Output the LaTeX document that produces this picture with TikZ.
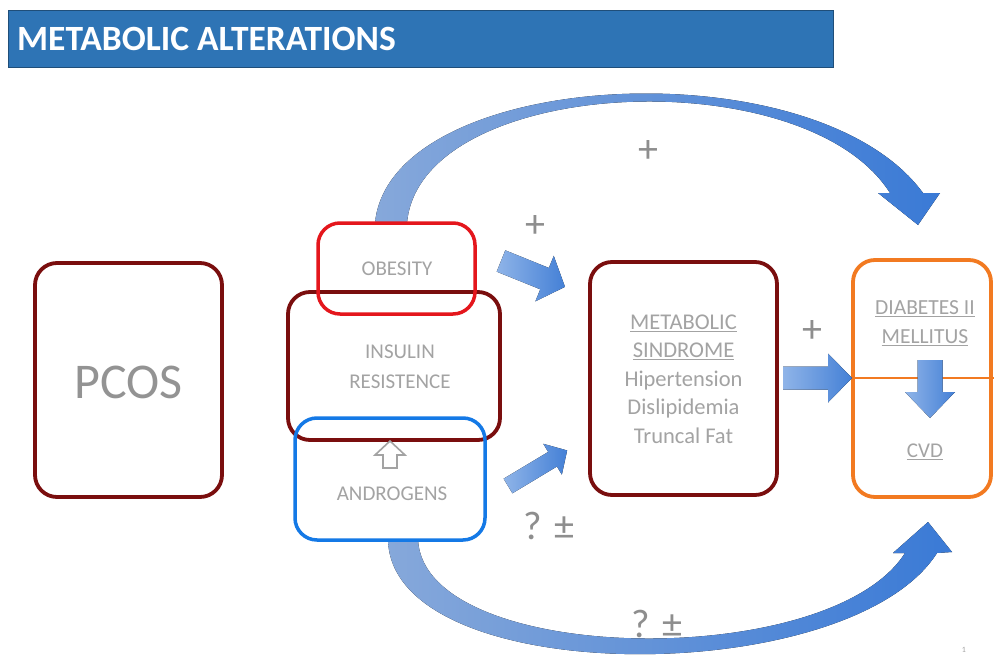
\documentclass[tikz,border=0pt]{standalone}
\usepackage{fontspec}
\setmainfont{Carlito}
\usetikzlibrary{positioning}
\definecolor{titleblue}{HTML}{2E74B5}
\definecolor{titleedge}{HTML}{1F4E79}
\definecolor{darkred}{HTML}{7A0E0E}
\definecolor{obred}{HTML}{E4161C}
\definecolor{andblue}{HTML}{1479E6}
\definecolor{dmorange}{HTML}{F27A21}
\definecolor{txtgray}{HTML}{A3A3A3}
\definecolor{signgray}{HTML}{8E8E8E}
\definecolor{arrlight}{HTML}{8FB4E8}
\definecolor{arrdark}{HTML}{4480D6}
\definecolor{arclight}{HTML}{86A8DA}
\definecolor{arcdark}{HTML}{3A7AD6}
\tikzset{
  box/.style={draw, line width=3.8pt, rounded corners=22pt, fill=none},
  lbl/.style={text=txtgray, font=\fontsize{21}{30}\selectfont, align=center, inner sep=0pt},
  sign/.style={text=signgray, font=\fontsize{40}{42}\selectfont, inner sep=0pt},
  arrowfill/.style={left color=arrlight, right color=arrdark},
}
\newcommand{\blockarr}[7]{%
  \begin{scope}[shift={(#1,#2)},rotate=#3]
    \fill[arrowfill] (0,-#5/2) -- ({#4-#7},-#5/2) -- ({#4-#7},-#6/2) -- (#4,0)
      -- ({#4-#7},#6/2) -- ({#4-#7},#5/2) -- (0,#5/2) -- cycle;
  \end{scope}}
\begin{document}
\begin{tikzpicture}[x=1pt,y=-1pt]
\useasboundingbox[fill=white] (0,0) rectangle (994,659);

% title bar
\node[draw=titleedge, line width=1pt, fill=titleblue, minimum width=825pt, minimum height=57pt,
      inner sep=0pt, anchor=north west] (title) at (8,10) {};
\node[anchor=west, text=white, font=\bfseries\fontsize{35.5}{37}\selectfont, inner sep=0pt]
      (titletext) at (17,39) {METABOLIC ALTERATIONS};

% curved arrows (behind boxes)
\fill[left color=arclight, right color=arcdark]
  (375,223) .. controls (390,68) and (815,45) .. (923,193) -- (940,193) -- (918,225)
  -- (878,193) -- (890,193) .. controls (805,58) and (420,76) .. (407,223) -- cycle;
\fill[left color=arclight, right color=arcdark]
  (388,540) .. controls (392,690) and (850,690) .. (937,553) -- (952,552) -- (928,522)
  -- (893,553) -- (905,553) .. controls (830,672) and (425,666) .. (418,540) -- cycle;

% boxes
\node[box, draw=darkred, minimum width=187pt, minimum height=234pt] (pcos) at (128.5,380) {};
\node[text=txtgray!90!black, font=\fontsize{50}{52}\selectfont, inner sep=0pt] (pcostext) at (128.5,382) {PCOS};

\node[box, draw=darkred, minimum width=212pt, minimum height=148pt] (insulin) at (394,366) {};
\node[box, draw=obred, line width=3.5pt, minimum width=157pt, minimum height=91pt] (obesity) at (396.5,268.5) {};
\node[box, draw=andblue, line width=3.5pt, minimum width=190pt, minimum height=122pt] (androgens) at (390,479) {};

\node[lbl] (obtext) at (397,269) {OBESITY};
\node[lbl] (intext) at (400,367) {INSULIN\\RESISTENCE};
\node[lbl] (andtext) at (392,494) {ANDROGENS};

% hollow up arrow
\draw[txtgray, line width=1.6pt, fill=white, line join=miter]
  (390,441) -- (405,455) -- (397,455) -- (397,468) -- (383,468) -- (383,455) -- (375,455) -- cycle;

\node[box, draw=darkred, minimum width=187pt, minimum height=233pt] (metab) at (683.5,378.5) {};
\node[lbl, font=\fontsize{22.5}{28.5}\selectfont] (mettext) at (683.5,379)
  {\underline{METABOLIC}\\\underline{SINDROME}\\Hipertension\\Dislipidemia\\Truncal Fat};

\node[box, draw=dmorange, minimum width=138pt, minimum height=237pt] (dm) at (922,378.5) {};
\coordinate (dmline) at (994,378);
\draw[dmorange, line width=2.5pt] (dm.west |- dmline) -- (dmline);
\node[lbl, font=\fontsize{21.5}{29}\selectfont] (dmtext) at (925,323) {\underline{DIABETES II}\\\underline{MELLITUS}};
\node[lbl] (cvdtext) at (925,452) {\underline{CVD}};

% block arrows
\blockarr{501}{261}{-22}{69}{23}{49}{22}
\blockarr{508}{486}{31}{69}{17}{36}{17}
\blockarr{783}{378}{0}{69}{23}{49}{24}
\blockarr{930}{360}{-90}{58}{25}{50}{26}

% signs
\node[sign] (p1) at (535,226) {+};
\node[sign] (p2) at (812,331) {+};
\node[sign] (p3) at (648,152) {+};
\node[sign] (q1) at (549,526) {?\hspace{12pt}±};
\node[sign] (q2) at (657,624) {?\hspace{12pt}±};
\node[text=txtgray, font=\fontsize{8}{9}\selectfont, inner sep=0pt] (pg) at (964,650) {1};
\end{tikzpicture}
\end{document}
